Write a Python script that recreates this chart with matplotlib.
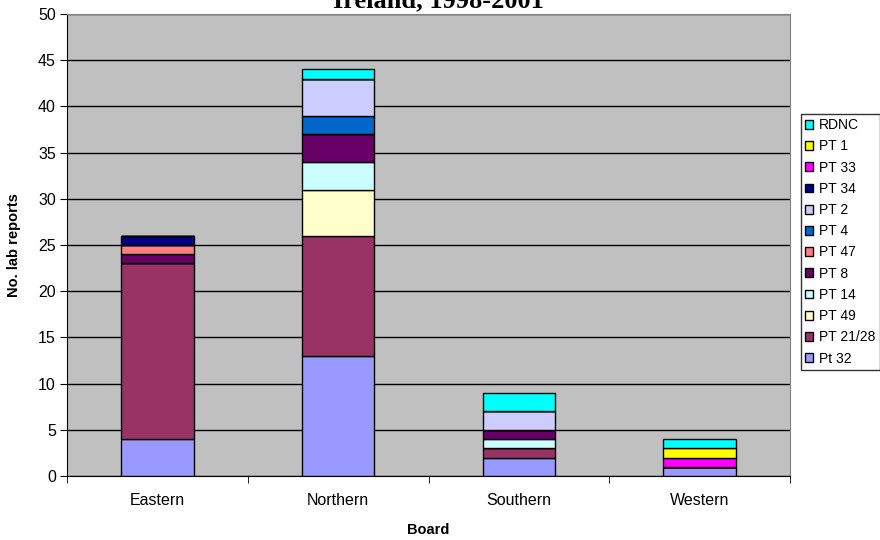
import numpy as np
import matplotlib
matplotlib.use("Agg")
import matplotlib.pyplot as plt

plt.rcParams['font.family'] = ['Liberation Sans', 'DejaVu Sans']

boards = ["Eastern", "Northern", "Southern", "Western"]
series = ["Pt 32", "PT 21/28", "PT 49", "PT 14", "PT 8", "PT 47",
          "PT 4", "PT 2", "PT 34", "PT 33", "PT 1", "RDNC"]
values = {
    "Pt 32":    [4, 13, 2, 1],
    "PT 21/28": [19, 13, 1, 0],
    "PT 49":    [0, 5, 0, 0],
    "PT 14":    [0, 3, 1, 0],
    "PT 8":     [1, 3, 1, 0],
    "PT 47":    [1, 0, 0, 0],
    "PT 4":     [0, 2, 0, 0],
    "PT 2":     [0, 4, 2, 0],
    "PT 34":    [1, 0, 0, 0],
    "PT 33":    [0, 0, 0, 1],
    "PT 1":     [0, 0, 0, 1],
    "RDNC":     [0, 1, 2, 1],
}
colors = ["#9999FF", "#993366", "#FFFFCC", "#CCFFFF", "#660066", "#FF8080",
          "#0066CC", "#CCCCFF", "#000080", "#FF00FF", "#FFFF00", "#00FFFF"]

fig = plt.figure(figsize=(8.8, 5.4), dpi=100)
ax = fig.add_axes([67/880, 1-476/540, (790-67)/880, (476-14)/540])
ax.set_facecolor("#C0C0C0")

x = np.arange(len(boards))
bottom = np.zeros(len(boards))
handles = []
for name, c in zip(series, colors):
    v = np.array(values[name], dtype=float)
    b = ax.bar(x, v, 0.4, bottom=bottom, color=c, edgecolor="black",
               linewidth=1, label=name, zorder=3)
    handles.append(b)
    bottom += v

ax.set_xlim(-0.5, 3.5)
ax.set_ylim(0, 50)
ax.set_yticks(np.arange(0, 51, 5))
ax.set_xticks(x)
ax.set_xticklabels(boards)
ax.set_xticks(np.arange(-0.5, 4, 1), minor=True)
ax.tick_params(axis='x', which='major', length=0, labelsize=11.5, pad=12)
ax.tick_params(axis='x', which='minor', length=5, direction='out')
ax.tick_params(axis='y', length=5, direction='out', labelsize=11.5, pad=3)
ax.grid(axis='y', color='black', linewidth=1, zorder=1)
for s in ["top", "right"]:
    ax.spines[s].set_color("#808080")
for s in ["left", "bottom"]:
    ax.spines[s].set_color("black")

ax.set_xlabel("Board", fontweight='bold', fontsize=10.5)
ax.set_ylabel("No. lab reports", fontweight='bold', fontsize=10.5)
ax.xaxis.set_label_coords(0.5, (476-523)/462)
ax.yaxis.set_label_coords((21-67)/723, 0.5)

fig.text(438/880, 1-7.5/540, "Ireland, 1998-2001", ha='center', va='baseline',
         fontsize=19, fontweight='bold', family='Liberation Serif')

leg = fig.legend(handles[::-1], series[::-1], loc='upper left',
                 bbox_to_anchor=(800.5/880, 1-114/540), fontsize=10,
                 frameon=True, fancybox=False, edgecolor='black',
                 handlelength=0.6, handleheight=0.6, handletextpad=0.45,
                 labelspacing=0.52, borderpad=0.3, borderaxespad=0)
leg.get_frame().set_linewidth(1)

fig.savefig("out.png", dpi=100)
